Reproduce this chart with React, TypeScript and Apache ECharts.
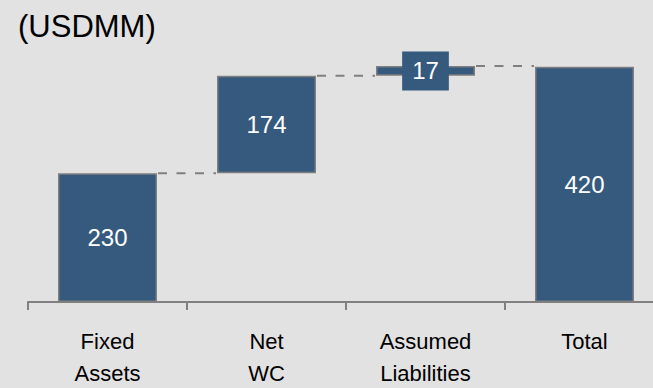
import React, { useEffect, useRef } from "react";
import * as echarts from "echarts";

const categories = ["Fixed\nAssets", "Net\nWC", "Assumed\nLiabilities", "Total"];
const values = [230, 174, 17, 420];
const isTotal = [false, false, false, true];
const title = "(USDMM)";

const BAR_COLOR = "#355A7E";
const BORDER = "#7F7F7F";
const BG = "#E2E2E2";
const FONT = "Liberation Sans, Arial, sans-serif";
const BAR_W = 99;

export default function App() {
  const ref = useRef<HTMLDivElement>(null);
  useEffect(() => {
    if (!ref.current) return;
    const chart = echarts.init(ref.current, undefined, { renderer: "svg" });

    // waterfall bases and tops
    const bases: number[] = [];
    const tops: number[] = [];
    let run = 0;
    values.forEach((v, i) => {
      if (isTotal[i]) {
        bases.push(0);
        tops.push(v);
        run = v;
      } else {
        bases.push(run);
        run += v;
        tops.push(run);
      }
    });
    const connectors = tops.slice(0, -1).map((t, i) => [i, t]);

    chart.setOption({
      animation: false,
      backgroundColor: BG,
      title: {
        text: title,
        left: 13,
        top: 6,
        textStyle: { fontSize: 31, fontWeight: "normal", color: "#000", fontFamily: FONT },
      },
      grid: { left: 28, top: 0, bottom: 86, width: 636, outerBoundsMode: "none", containLabel: false },
      xAxis: {
        type: "category",
        data: categories,
        axisLine: { lineStyle: { color: "#808080", width: 2 } },
        axisTick: { show: true, alignWithLabel: false, length: 8, lineStyle: { color: "#808080", width: 2 } },
        axisLabel: {
          margin: 23,
          fontSize: 22,
          lineHeight: 32,
          color: "#000",
          fontFamily: FONT,
          interval: 0,
        },
      },
      yAxis: { type: "value", min: 0, max: 539, show: false, splitLine: { show: false } },
      series: [
        {
          type: "bar",
          stack: "w",
          data: bases,
          barWidth: BAR_W,
          itemStyle: { color: "transparent" },
          silent: true,
        },
        {
          type: "bar",
          stack: "w",
          barWidth: BAR_W,
          data: values.map((v) => ({
            value: v,
            label:
              v < 40
                ? {
                    backgroundColor: BAR_COLOR,
                    padding: [8, 10, 7, 10],
                  }
                : undefined,
          })),
          itemStyle: { color: BAR_COLOR, borderColor: BORDER, borderWidth: 1.5 },
          label: {
            show: true,
            position: "inside",
            color: "#fff",
            fontSize: 24,
            fontFamily: FONT,
          },
          z: 3,
        },
        {
          type: "custom",
          data: connectors,
          z: 2,
          silent: true,
          renderItem: (params: any, api: any) => {
            const p = api.coord([api.value(0), api.value(1)]);
            const w = api.size([1, 0])[0];
            const x1 = p[0] + BAR_W / 2 + 1;
            const x2 = p[0] + w - BAR_W / 2 - 1;
            return {
              type: "line",
              shape: { x1, y1: p[1], x2, y2: p[1] },
              style: { stroke: "#808080", lineWidth: 2, lineDash: [9, 9.5], lineDashOffset: 0 },
            };
          },
        },
      ],
    });
    return () => chart.dispose();
  }, []);
  return (
    <div
      ref={ref}
      style={{ position: "fixed", left: 0, top: 0, width: 653, height: 388 }}
    />
  );
}
